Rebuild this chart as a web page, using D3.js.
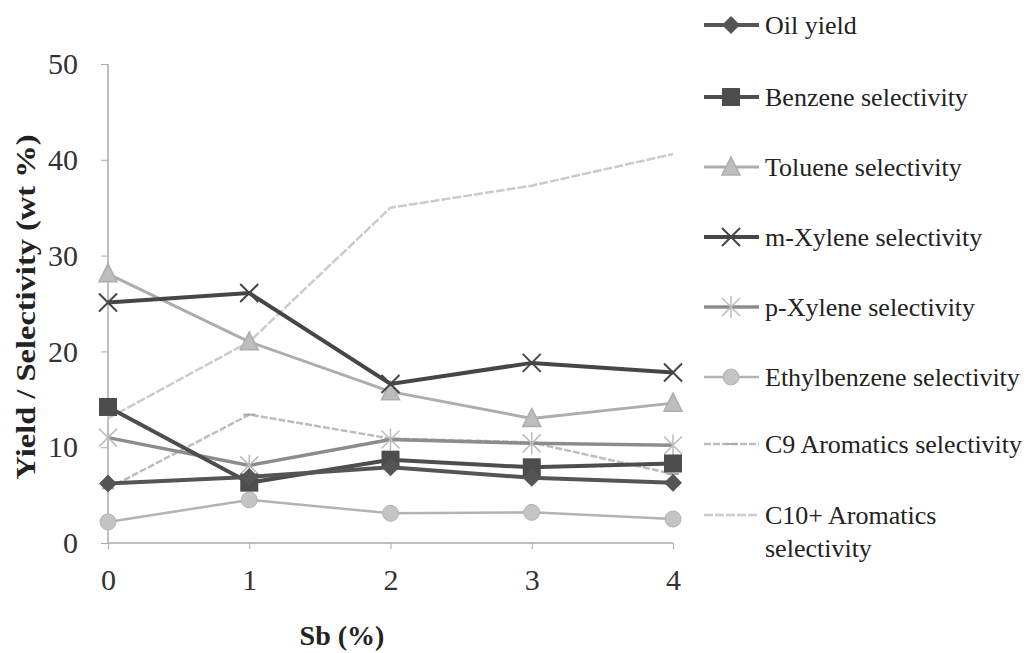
<!DOCTYPE html>
<html><head><meta charset="utf-8">
<script src="https://cdn.jsdelivr.net/npm/d3@7"></script>
<style>html,body{margin:0;padding:0;background:#fff;}svg{display:block;}</style>
</head><body>
<svg id="c" width="1034" height="653"></svg>
<script>
const categories = [0, 1, 2, 3, 4];
const yTicks = [0, 10, 20, 30, 40, 50];
const oilYield = [6.2, 6.9, 7.9, 6.8, 6.3];
const benzene = [14.2, 6.3, 8.7, 7.9, 8.3];
const toluene = [28.1, 21.0, 15.8, 13.0, 14.6];
const mXylene = [25.1, 26.1, 16.6, 18.8, 17.8];
const pXylene = [11.0, 8.1, 10.8, 10.4, 10.2];
const ethylbenzene = [2.2, 4.5, 3.1, 3.2, 2.5];
const c9 = [5.7, 13.4, 10.9, 10.5, 7.2];
const c10 = [13.0, 21.0, 35.0, 37.3, 40.6];
const seriesNames = ["Oil yield","Benzene selectivity","Toluene selectivity","m-Xylene selectivity","p-Xylene selectivity","Ethylbenzene selectivity","C9 Aromatics selectivity","C10+ Aromatics selectivity"];

const styles = [
  {color:"#555", w:4, marker:"diamond"},
  {color:"#4d4d4d", w:4, marker:"square"},
  {color:"#adadad", w:3, marker:"triangle"},
  {color:"#464646", w:4, marker:"x"},
  {color:"#8c8c8c", w:3.5, marker:"star"},
  {color:"#b3b3b3", w:2.5, marker:"circle"},
  {color:"#bdbdbd", w:2.5, marker:"dash", dash:"7,2"},
  {color:"#cbcbcb", w:2.5, marker:"none", dash:"9,2"}
];
const allValues = [oilYield, benzene, toluene, mXylene, pXylene, ethylbenzene, c9, c10];

const svg = d3.select("#c");
const x = d3.scaleLinear().domain([0,4]).range([108,673]);
const y = d3.scaleLinear().domain([0,50]).range([543,64]);
const font = "'Liberation Serif','Times New Roman',serif";

// axes
const xAxis = svg.append("g").attr("transform","translate(0,543)")
  .call(d3.axisBottom(x).tickValues(categories).tickFormat(d3.format("d")).tickSize(6).tickPadding(20));
xAxis.select(".domain").attr("stroke","#aaa").attr("stroke-width",1.5).attr("d","M108,0H673");
xAxis.selectAll(".tick line").attr("stroke","#aaa");
xAxis.selectAll("text").attr("font-family",font).attr("font-size",30).attr("fill","#333");

const yAxis = svg.append("g").attr("transform","translate(108,0)")
  .call(d3.axisLeft(y).tickValues(yTicks).tickSize(7).tickPadding(23));
yAxis.select(".domain").attr("stroke","#aaa").attr("stroke-width",1.5).attr("d","M0,64V543");
yAxis.selectAll(".tick line").attr("stroke","#aaa");
yAxis.selectAll("text").attr("font-family",font).attr("font-size",30).attr("fill","#333");

svg.append("text").attr("x",342).attr("y",645).attr("text-anchor","middle")
  .attr("font-family",font).attr("font-weight","bold").attr("font-size",28).attr("fill","#222").text("Sb (%)");
svg.append("text").attr("transform","translate(35,307) rotate(-90)").attr("text-anchor","middle")
  .attr("font-family",font).attr("font-weight","bold").attr("font-size",28).attr("fill","#222")
  .attr("textLength",345).attr("lengthAdjust","spacingAndGlyphs").text("Yield / Selectivity (wt %)");

function drawMarker(g, type, cx, cy, color) {
  const s = 9;
  if (type === "diamond") g.append("path").attr("d",`M${cx},${cy-s}L${cx+s},${cy}L${cx},${cy+s}L${cx-s},${cy}Z`).attr("fill",color);
  else if (type === "square") g.append("rect").attr("x",cx-9).attr("y",cy-9).attr("width",18).attr("height",18).attr("fill",color);
  else if (type === "triangle") g.append("path").attr("d",`M${cx},${cy-10}L${cx+9},${cy+8}L${cx-9},${cy+8}Z`).attr("fill","#bdbdbd").attr("stroke",color).attr("stroke-width",1.5);
  else if (type === "x") g.append("path").attr("d",`M${cx-9},${cy-9}L${cx+9},${cy+9}M${cx-9},${cy+9}L${cx+9},${cy-9}`).attr("stroke",color).attr("stroke-width",2);
  else if (type === "star") g.append("path").attr("d",`M${cx-9},${cy-9}L${cx+9},${cy+9}M${cx-9},${cy+9}L${cx+9},${cy-9}M${cx},${cy-11}L${cx},${cy+11}`).attr("stroke","#bbb").attr("stroke-width",1.5);
  else if (type === "circle") g.append("circle").attr("cx",cx).attr("cy",cy).attr("r",8).attr("fill","#c4c4c4").attr("stroke",color).attr("stroke-width",1);
  else if (type === "dash") g.append("path").attr("d",`M${cx-6},${cy}L${cx+6},${cy}`).attr("stroke","#aaa").attr("stroke-width",2);
}

const line = d3.line().x((d,i)=>x(categories[i])).y(d=>y(d));
const order = [7,6,5,2,4,3,1,0];
order.forEach(k => {
  const st = styles[k];
  const g = svg.append("g");
  g.append("path").attr("d", line(allValues[k])).attr("fill","none")
    .attr("stroke",st.color).attr("stroke-width",st.w).attr("stroke-dasharray",st.dash||null);
  allValues[k].forEach((v,i)=>drawMarker(g, st.marker, x(categories[i]), y(v), st.color));
});

// legend
const legY = [25, 97, 167, 237, 307, 377, 444, 515];
seriesNames.forEach((name,k) => {
  const st = styles[k];
  const g = svg.append("g");
  const ly = legY[k];
  g.append("path").attr("d",`M704,${ly}H759`).attr("stroke",st.color).attr("stroke-width",st.w)
    .attr("stroke-dasharray",st.dash||null);
  drawMarker(g, st.marker, 731, ly, st.color);
  const t = g.append("text").attr("x",765).attr("y",ly+9).attr("font-family",font).attr("font-size",26).attr("fill","#222");
  if (k === 7) {
    t.append("tspan").attr("x",765).text("C10+ Aromatics");
    t.append("tspan").attr("x",765).attr("dy",33).text("selectivity");
  } else t.text(name);
});
</script>
</body></html>
